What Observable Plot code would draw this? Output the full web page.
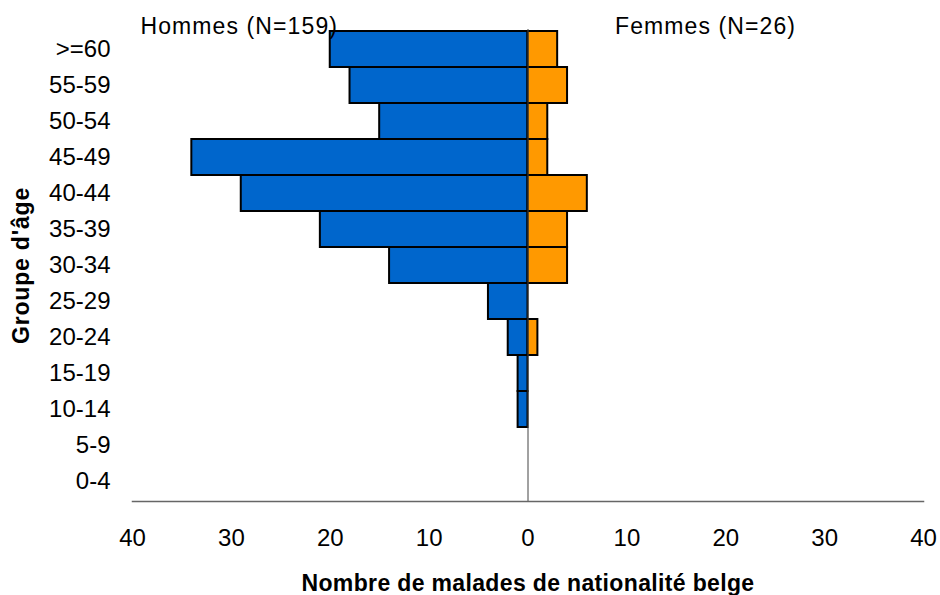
<!DOCTYPE html>
<html>
<head>
<meta charset="utf-8">
<script src="https://cdn.jsdelivr.net/npm/d3@7"></script>
<script src="https://cdn.jsdelivr.net/npm/@observablehq/plot@0.6"></script>
<style>
  html, body { margin: 0; padding: 0; background: #fff; }
  #chart svg { font-family: "Liberation Sans", Arial, sans-serif; }
</style>
</head>
<body>
<div id="chart"></div>
<script>
// Age groups, top to bottom
const ageGroups = [">=60", "55-59", "50-54", "45-49", "40-44", "35-39", "30-34", "25-29", "20-24", "15-19", "10-14", "5-9", "0-4"];
// Counts of Belgian patients
const hommes = [20, 18, 15, 34, 29, 21, 14, 4, 2, 1, 1, 0, 0];
const femmes = [3, 4, 2, 2, 6, 4, 4, 0, 1, 0, 0, 0, 0];
const xTicks = [-40, -30, -20, -10, 0, 10, 20, 30, 40];
const seriesLabels = [`Hommes (N=${d3.sum(hommes)})`, `Femmes (N=${d3.sum(femmes)})`];
const xTitle = "Nombre de malades de nationalité belge";
const yTitle = "Groupe d'âge";

const rows = [];
ageGroups.forEach((g, i) => {
  if (hommes[i] > 0) rows.push({age: g, sex: "H", value: -hommes[i]});
  if (femmes[i] > 0) rows.push({age: g, sex: "F", value: femmes[i]});
});

const chart = Plot.plot({
  width: 940,
  height: 595,
  marginLeft: 132,
  marginRight: 17,
  marginTop: 29,
  marginBottom: 94,
  style: {fontFamily: "'Liberation Sans', Arial, sans-serif", background: "#fff", overflow: "visible"},
  x: {domain: [-40, 40]},
  y: {domain: ageGroups, padding: 0},
  color: {domain: ["H", "F"], range: ["#0066CC", "#FF9900"]},
  marks: [
    Plot.barX(rows, {y: "age", x1: 0, x2: "value", fill: "sex", stroke: "#000", strokeWidth: 2, inset: 0}),
    Plot.ruleX([0], {stroke: "#444", strokeWidth: 1}),
    Plot.frame({anchor: "bottom", stroke: "#666", strokeWidth: 1.5}),
    Plot.axisX({ticks: xTicks, tickFormat: d => Math.abs(d), tickSize: 0, tickPadding: 27, fontSize: 24, label: null, fill: "#000"}),
    Plot.axisY({tickSize: 0, tickPadding: 22, fontSize: 24, label: null, fill: "#000"}),
    Plot.text([seriesLabels[0]], {text: d => d, frameAnchor: "top-left", textAnchor: "start", lineAnchor: "bottom", dx: 8, dy: 4, fontSize: 23, fill: "#000"}),
    Plot.text([seriesLabels[1]], {text: d => d, frameAnchor: "top", textAnchor: "start", lineAnchor: "bottom", dx: 87, dy: 4, fontSize: 23, fill: "#000"}),
    Plot.text([xTitle], {text: d => d, frameAnchor: "bottom", textAnchor: "middle", lineAnchor: "bottom", dy: 89, fontSize: 23, fontWeight: "bold", fill: "#000"}),
    Plot.text([yTitle], {text: d => d, frameAnchor: "left", textAnchor: "middle", lineAnchor: "middle", rotate: -90, dx: -111, dy: 0, fontSize: 23, fontWeight: "bold", fill: "#000"})
  ]
});
d3.select(chart).selectAll("text")
  .filter(function() { return seriesLabels.includes(this.textContent); })
  .style("letter-spacing", "1.1px");
d3.select(chart).selectAll("text")
  .filter(function() { return this.textContent === xTitle; })
  .style("letter-spacing", "0.35px");
d3.select(chart).selectAll("text")
  .filter(function() { return this.textContent === yTitle; })
  .style("letter-spacing", "0.8px");
document.getElementById("chart").appendChild(chart);
</script>
</body>
</html>
